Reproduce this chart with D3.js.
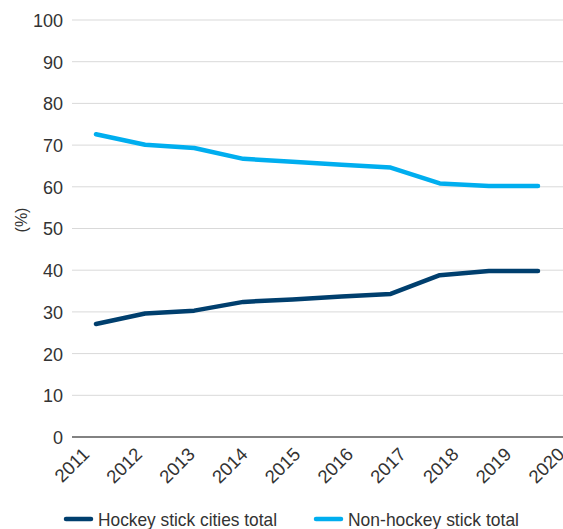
<!DOCTYPE html>
<html>
<head>
<meta charset="utf-8">
<script src="https://cdn.jsdelivr.net/npm/d3@7"></script>
<style>
  body { margin: 0; background: #fff; }
  svg text { fill: #333; font-family: 'Liberation Sans', Arial, sans-serif; }
</style>
</head>
<body>
<div id="chart"></div>
<script>
// chart data
var years = ["2011", "2012", "2013", "2014", "2015", "2016", "2017", "2018", "2019", "2020"];
var hockey = [27.1, 29.6, 30.3, 32.4, 33.0, 33.7, 34.3, 38.8, 39.8, 39.8];
var nonHockey = [72.6, 70.1, 69.3, 66.7, 66.0, 65.3, 64.6, 60.8, 60.2, 60.2];
var yTicks = [0, 10, 20, 30, 40, 50, 60, 70, 80, 90, 100];
var seriesNames = ["Hockey stick cities total", "Non-hockey stick total"];
var colors = ["#003f6e", "#00aeef"];

var width = 563, height = 529;

var svg = d3.select("#chart").append("svg")
  .attr("width", width).attr("height", height);

var y = d3.scaleLinear().domain([0, 100]).range([437, 20]);
var xLine = d3.scalePoint().domain(years).range([96, 538]);
var xLabel = d3.scalePoint().domain(years).range([81, 556]);

// gridlines
svg.append("g").selectAll("line").data(yTicks.filter(function (d) { return d > 0; }))
  .enter().append("line")
  .attr("x1", 72).attr("x2", width)
  .attr("y1", function (d) { return y(d); }).attr("y2", function (d) { return y(d); })
  .attr("stroke", "#d9d9d9").attr("stroke-width", 1);

// y axis labels
var yAxis = d3.axisLeft(y).tickValues(yTicks).tickSize(0).tickPadding(0);
var gy = svg.append("g").attr("transform", "translate(63,0)").call(yAxis);
gy.select(".domain").remove();
gy.selectAll("text")
  .attr("dy", "0.36em")
  .style("font-family", "'Liberation Sans', Arial, sans-serif")
  .style("font-size", "18px").style("fill", "#333");

// base axis line
svg.append("line")
  .attr("x1", 72).attr("x2", width)
  .attr("y1", y(0)).attr("y2", y(0))
  .attr("stroke", "#595959").attr("stroke-width", 1.5);

// x labels (rotated)
svg.append("g").selectAll("text").data(years).enter().append("text")
  .attr("transform", function (d) { return "translate(" + xLabel(d) + ",446) rotate(-45)"; })
  .attr("text-anchor", "end")
  .attr("dy", "0.72em")
  .style("font-size", "18.5px")
  .text(function (d) { return d; });

// y axis title
svg.append("text")
  .attr("transform", "translate(27,220) rotate(-90)")
  .attr("text-anchor", "middle")
  .style("font-size", "16px")
  .text("(%)");

// lines
var line = d3.line()
  .x(function (d, i) { return xLine(years[i]); })
  .y(function (d) { return y(d); });

[hockey, nonHockey].forEach(function (s, i) {
  svg.append("path").datum(s)
    .attr("d", line)
    .attr("fill", "none")
    .attr("stroke", colors[i])
    .attr("stroke-width", 4.5)
    .attr("stroke-linecap", "round")
    .attr("stroke-linejoin", "round");
});

// legend
var legendX = [66, 316];
var legendLen = [179, 171];
seriesNames.forEach(function (name, i) {
  var g = svg.append("g").attr("transform", "translate(" + legendX[i] + ",519)");
  g.append("line").attr("x1", 0).attr("x2", 25).attr("y1", 0).attr("y2", 0)
    .attr("stroke", colors[i]).attr("stroke-width", 4.5).attr("stroke-linecap", "round");
  g.append("text").attr("x", 32).attr("y", 7)
    .attr("textLength", legendLen[i]).attr("lengthAdjust", "spacingAndGlyphs")
    .style("font-size", "19px")
    .text(name);
});
</script>
</body>
</html>
